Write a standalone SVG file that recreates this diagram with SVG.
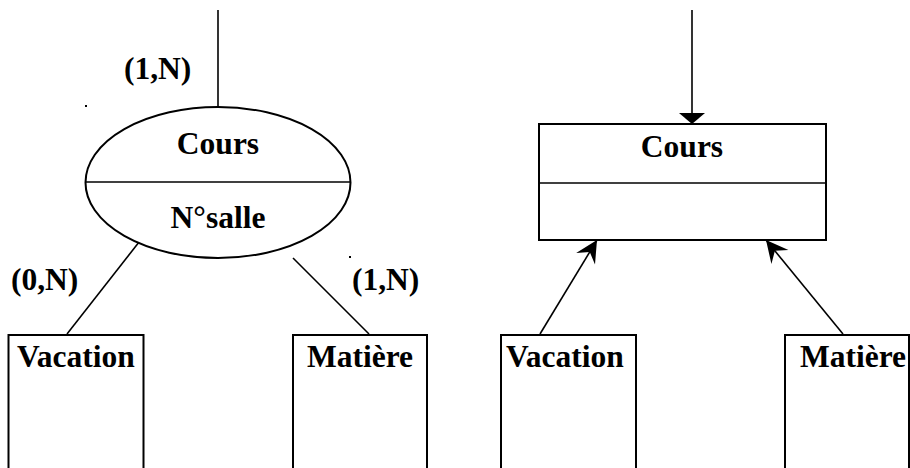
<svg xmlns="http://www.w3.org/2000/svg" width="910" height="468" viewBox="0 0 910 468">
  <style>
    .shape { fill: #ffffff; stroke: #000000; stroke-width: 2; }
    .line { fill: none; stroke: #000000; stroke-width: 1.6; }
    .label { font-family: "Liberation Serif", "Times New Roman", serif; font-weight: bold; font-size: 31.5px; fill: #000000; }
    .mid { text-anchor: middle; }
  </style>
  <defs>
    <marker id="stealth" markerUnits="userSpaceOnUse" markerWidth="30" markerHeight="28" viewBox="-26 -14 30 28" refX="0" refY="0" orient="auto">
      <path d="M0,0 L-22,-11 L-14,0 L-22,11 Z" fill="#000000"/>
    </marker>
  </defs>

  <rect width="910" height="468" fill="#ffffff"/>

  <!-- connectors -->
  <g id="connectors">
    <!-- left: association links -->
    <line class="line" x1="218" y1="10" x2="218" y2="107"/>
    <line class="line" x1="143" y1="237" x2="67" y2="334"/>
    <line class="line" x1="293" y1="258" x2="369" y2="334"/>
    <!-- right: directed links -->
    <line class="line" x1="692" y1="10" x2="692" y2="114"/>
    <polygon points="679,113 705,113 692,124" fill="#000000"/>
    <line class="line" x1="540" y1="334" x2="597" y2="240" marker-end="url(#stealth)"/>
    <line class="line" x1="843" y1="334" x2="766" y2="240" marker-end="url(#stealth)"/>
  </g>

  <!-- cardinality labels -->
  <g id="cardinalities">
    <text class="label" x="124" y="79">(1,N)</text>
    <text class="label" x="11" y="290">(0,N)</text>
    <text class="label" x="352" y="290">(1,N)</text>
    <rect x="85" y="105" width="2" height="2" fill="#000000"/>
    <rect x="349" y="256" width="2" height="2" fill="#000000"/>
  </g>

  <!-- left: association Cours -->
  <g id="cours-association">
    <ellipse class="shape" cx="218" cy="182.5" rx="132.5" ry="75.5"/>
    <line class="line" x1="85.5" y1="182" x2="350.5" y2="182"/>
    <text class="label mid" x="218" y="154">Cours</text>
    <text class="label mid" x="218" y="228">N°salle</text>
  </g>

  <g id="vacation-left">
    <rect class="shape" x="8.5" y="335" width="135" height="140"/>
    <text class="label" x="17" y="367">Vacation</text>
  </g>

  <g id="matiere-left">
    <rect class="shape" x="293" y="335" width="134" height="140"/>
    <text class="label" x="307" y="367">Matière</text>
  </g>

  <!-- right: class Cours -->
  <g id="cours-class">
    <rect class="shape" x="539" y="124" width="287" height="116"/>
    <line class="line" x1="539" y1="183" x2="826" y2="183"/>
    <text class="label mid" x="682" y="157">Cours</text>
  </g>

  <g id="vacation-right">
    <rect class="shape" x="501" y="335" width="135" height="140"/>
    <text class="label" x="506" y="367">Vacation</text>
  </g>

  <g id="matiere-right">
    <rect class="shape" x="785" y="335" width="124" height="140"/>
    <text class="label" x="800" y="367">Matière</text>
  </g>
</svg>
